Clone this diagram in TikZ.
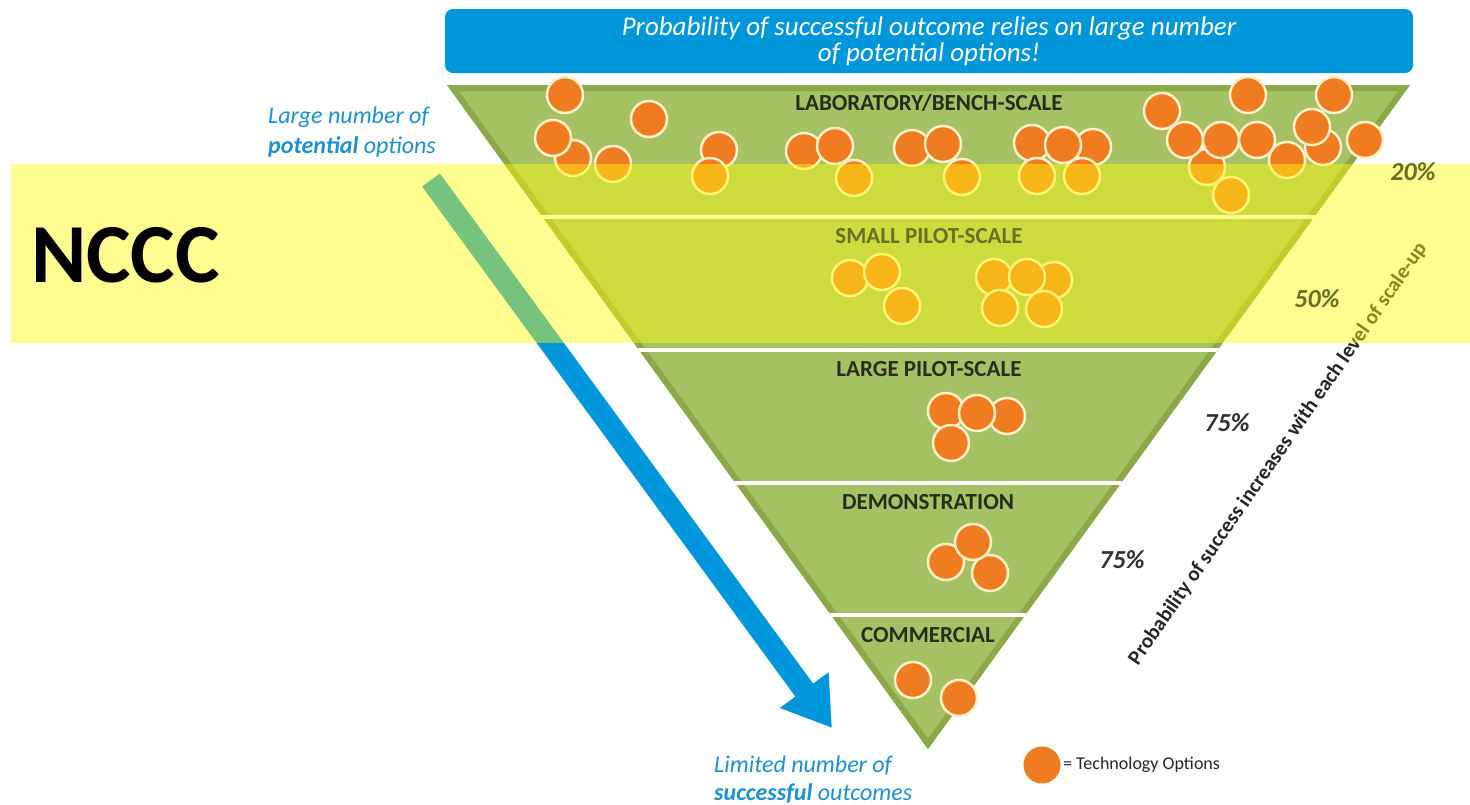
\documentclass[tikz,border=0pt]{standalone}
\usepackage{fontspec}
\setmainfont{Carlito}
\usetikzlibrary{arrows.meta}
\definecolor{bannerblue}{RGB}{0,150,218}
\definecolor{funlight}{RGB}{166,193,100}
\definecolor{fundark}{RGB}{140,168,72}
\definecolor{orangec}{RGB}{240,124,34}
\definecolor{creamc}{RGB}{255,240,200}
\definecolor{labeldark}{RGB}{40,45,30}
\definecolor{textblue}{RGB}{30,145,205}
\definecolor{pctdark}{RGB}{50,50,50}
\definecolor{olivec}{RGB}{105,112,40}
\definecolor{hiyellow}{RGB}{255,250,15}
\definecolor{arrowblue}{RGB}{0,150,220}
\begin{document}
\begin{tikzpicture}[x=1pt,y=-1pt,
  opt/.style={circle, fill=orangec, draw=creamc, line width=2.5pt, minimum size=36pt, inner sep=0pt},
  bandlabel/.style={font=\fontsize{23}{25}\selectfont\bfseries, text=labeldark, inner sep=0pt},
  pct/.style={font=\fontsize{26}{28}\selectfont\bfseries\itshape, text=pctdark, inner sep=0pt},
  sidetext/.style={font=\fontsize{24}{26}\selectfont\itshape, text=textblue, inner sep=0pt, anchor=base west},
]
\useasboundingbox (0,0) rectangle (1470,804);
\fill[white] (0,0) rectangle (1470,804);

% banner
\node[fill=bannerblue, rounded corners=8pt, minimum width=968pt, minimum height=64pt,
      text=white, align=center, font=\fontsize{27}{26}\selectfont\itshape] (banner) at (929,41)
  {Probability of successful outcome relies on large number\\of potential options!};

% funnel
\coordinate (fTL) at (447,85);
\coordinate (fTR) at (1410,85);
\coordinate (fB) at (928,749);
\begin{scope}
  \clip (fTL) -- (fTR) -- (fB) -- cycle;
  \fill[funlight] (fTL) -- (fTR) -- (fB) -- cycle;
  \draw[fundark, line width=12pt] (fTL) -- (fTR) -- (fB) -- cycle;
  \foreach \yy in {217,350,483,615} \draw[white, line width=3.5pt] (400,\yy) -- (1450,\yy);
\end{scope}

% arrow
\coordinate (arrS) at (431,180);
\coordinate (arrE) at (832,728);
\draw[arrowblue, line width=22pt, -{Triangle[length=47pt,width=57pt]}] (arrS) -- (arrE);

% technology option circles
\foreach \cx/\cy [count=\i] in {573/158, 553/138, 565/95, 613/164, 649/119, 719/150, 710/176,
   804/151, 835/146, 854/178, 912/148, 943/144, 962/177, 1032/143, 1093/147, 1063/145,
   1037/176, 1082/176, 1162/111, 1248/95, 1334/95, 1207/167, 1231/195, 1185/140, 1221/140,
   1287/160, 1257/140, 1323/147, 1312/127, 1365/140,
   850/278, 882/272, 902/306, 994/277, 1054/280, 1027/277, 1000/308, 1044/309,
   946/411, 1007/416, 977/413, 951/443,
   946/562, 990/573, 973/542,
   913/680, 959/698}
  \node[opt] (o\i) at (\cx,\cy) {};

% band labels
\node[bandlabel] (lab) at (929,103) {LABORATORY/BENCH-SCALE};
\node[bandlabel] (large) at (929,369) {LARGE PILOT-SCALE};
\node[bandlabel] (demo) at (928,502) {DEMONSTRATION};
\node[bandlabel] (comm) at (928,635) {COMMERCIAL};

% percentages
\node[pct] (p75a) at (1227,423) {75\%};
\node[pct] (p75b) at (1122,560) {75\%};

% rotated text
\node[font=\fontsize{21}{23}\selectfont\bfseries, text=black!85, rotate=55.3, inner sep=0pt] (probtext)
  at (1278,454) {Probability of success increases with each level of scale-up};

% side texts
\node[sidetext] (lg1) at (268,123) {Large number of};
\node[sidetext] (lg2) at (268,153) {\textbf{potential} options};
\node[sidetext] (lm1) at (714,772) {Limited number of};
\node[sidetext] (lm2) at (714,800) {\textbf{successful} outcomes};

% legend
\node[opt, draw=none, minimum size=37pt] (legc) at (1042,765) {};
\node[font=\fontsize{18}{20}\selectfont, text=black!85, anchor=west, inner sep=0pt] (legt)
  at (1063,765) {= Technology Options};

% highlight overlay
\fill[hiyellow, opacity=0.46] (11,164) rectangle (1470,343);

% texts over the overlay
\node[bandlabel, text=olivec] (small) at (929,236) {SMALL PILOT-SCALE};
\node[pct, text=olivec] (p20) at (1413,172) {20\%};
\node[pct, text=olivec] (p50) at (1317,299) {50\%};
\node[font=\fontsize{84}{90}\selectfont\bfseries, anchor=base west, inner sep=0pt] (nccc)
  at (31,282) {NCCC};
\end{tikzpicture}
\end{document}
